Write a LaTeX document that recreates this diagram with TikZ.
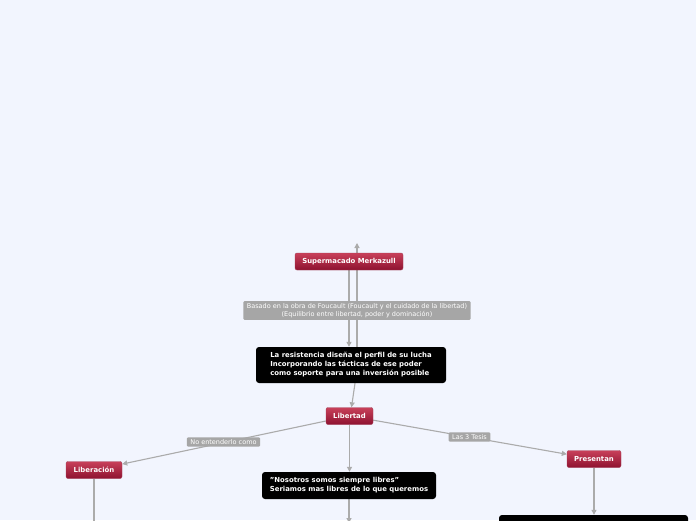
\documentclass[tikz,border=0pt]{standalone}
\usepackage{fontspec}
\setmainfont{DejaVu Sans}
\usepackage{tikz}
\usetikzlibrary{positioning,arrows.meta}
\definecolor{mapbg}{HTML}{F2F5FE}
\definecolor{topicred}{HTML}{C8405A}
\definecolor{topicdark}{HTML}{8E1230}
\definecolor{linegray}{HTML}{ABABAB}
\definecolor{taggray}{HTML}{A6A6A6}
\pgfdeclarelayer{bg}
\pgfdeclarelayer{lines}
\pgfsetlayers{bg,lines,main}
\begin{document}
\begin{tikzpicture}[x=1pt, y=-1pt, font=\fontsize{6.9}{9}\selectfont\bfseries]
    \tikzstyle{topic}=[top color=topicred, bottom color=topicdark, draw=topicdark!80,
                       rounded corners=2pt, text=white, inner sep=0pt,
                       minimum height=17pt]
    \tikzstyle{note}=[fill=black, rounded corners=3pt, text=white, align=left,
                      inner xsep=7pt, inner ysep=4pt]
    \tikzstyle{conn}=[draw=linegray, line width=1.1pt,
                      -{Triangle[length=5pt, width=5pt]}]
    \tikzstyle{tag}=[fill=taggray, text=white, rounded corners=1pt, align=center,
                     font=\fontsize{6.5}{8.4}\selectfont, inner xsep=3.5pt, inner ysep=2pt]

    \begin{pgfonlayer}{bg}
      \fill[mapbg] (0,0) rectangle (696,520);
    \end{pgfonlayer}
    \useasboundingbox (0,0) rectangle (696,520);

    \node[topic, minimum width=108pt] (sup) at (349,261.5) {Supermacado Merkazull};
    \node[note, minimum width=190pt, minimum height=36pt] (res) at (351,365)
         {La resistencia diseña el perfil de su lucha\\
          Incorporando las tácticas de ese poder\\
          como soporte para una inversión posible};
    \node[topic, minimum width=47pt] (lib) at (349.5,416) {Libertad};
    \node[topic, minimum width=56pt] (libe) at (94,470) {Liberación};
    \node[topic, minimum width=54pt] (pres) at (594,459) {Presentan};
    \node[note, minimum width=174pt, minimum height=27pt] (nos) at (349,485.5)
         {"Nosotros somos siempre libres"\\
          Seriamos mas libres de lo que queremos};
    \node[note, minimum width=189pt, minimum height=30pt] (tesis) at (593.5,530) {};

    \coordinate (arriba) at (357,243);
    \coordinate (nosabajo) at (349,523);
    \coordinate (libeabajo) at (94,540);

    \begin{pgfonlayer}{lines}
      \draw[conn] (sup.south) -- (sup.south |- res.north);
      \draw[conn] (res.north -| arriba) -- (arriba);
      \draw[conn] ([xshift=4pt]res.south) -- ([xshift=2pt]lib.north);
      \draw[conn] (lib) -- (libe);
      \draw[conn] (lib) -- (pres);
      \draw[conn] (lib.south) -- (lib.south |- nos.north);
      \draw[conn] (nos.south) -- (nosabajo);
      \draw[conn, -] (libe.south) -- (libeabajo);
      \draw[conn] (pres.south) -- (pres.south |- tesis.north);
    \end{pgfonlayer}

    \node[tag] (basado) at (357,310.5)
         {Basado en la obra de Foucault (Foucault y el cuidado de la libertad)\\
          (Equilibrio entre libertad, poder y dominación)};
    \node[tag] (noent) at (223.5,442) {No entenderlo como};
    \node[tag] (tres) at (469.5,437) {Las 3 Tesis};
\end{tikzpicture}
\end{document}
